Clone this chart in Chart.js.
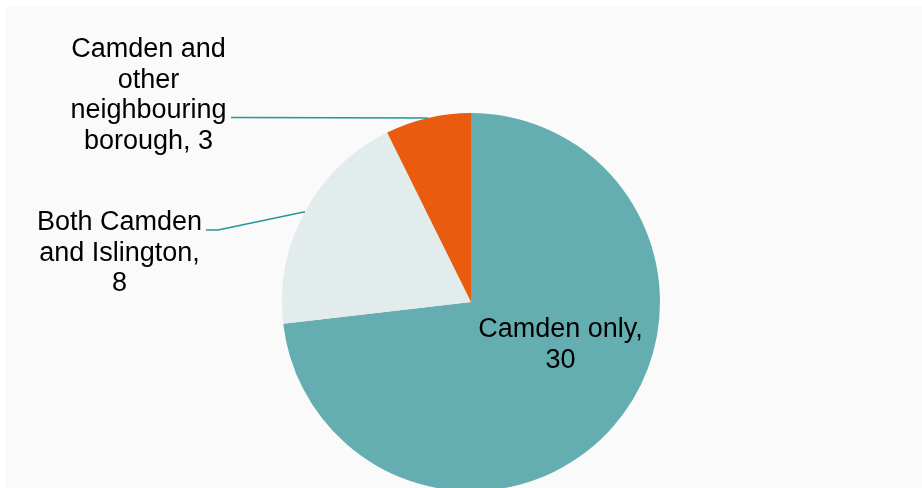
<!DOCTYPE html>
<html>
<head>
<meta charset="utf-8">
<script src="https://cdn.jsdelivr.net/npm/chart.js@4.4.1/dist/chart.umd.min.js"></script>
<style>
  html, body { margin: 0; padding: 0; width: 922px; height: 488px; overflow: hidden; background: #fff; }
  #wrap { position: relative; width: 922px; height: 500px; }
</style>
</head>
<body>
<div id="wrap"><canvas id="pie" width="922" height="500"></canvas></div>
<script>
// slices, clockwise from 12 o'clock
const categories = ["Camden only", "Both Camden and Islington", "Camden and other neighbouring borough"];
const counts = [30, 8, 3];
const sliceColors = ["#64aeb1", "#e2ecec", "#e95c0f"];

// how each category name wraps in its label, and whether the count sits on its own line
const labelWrap = [
  ["Camden only,"],
  ["Both Camden", "and Islington,"],
  ["Camden and", "other", "neighbouring", "borough,"]
];
const countOnOwnLine = [true, true, false];

// label placement: centre x and first baseline; leader start for outside labels
const labelPos = [
  { x: 560.5, y: 337 },
  { x: 119.5, y: 230 },
  { x: 148.5, y: 57 }
];
const leaderStart = [
  null,
  { x: 206, y: 230, elbowX: 218 },
  { x: 231, y: 117.5, elbowX: 240 }
];

const LINE_H = 30.7;
const LEADER_COLOR = "#22989a";

function labelLines(i) {
  const wrap = labelWrap[i];
  if (countOnOwnLine[i]) return [...wrap, String(counts[i])];
  return [...wrap.slice(0, -1), wrap[wrap.length - 1] + " " + counts[i]];
}

const panelBackground = {
  id: "panelBackground",
  beforeDraw(chart) {
    const ctx = chart.ctx;
    ctx.save();
    ctx.fillStyle = "#ffffff";
    ctx.fillRect(0, 0, chart.width, chart.height);
    ctx.fillStyle = "#fafafa";
    ctx.fillRect(5, 7, chart.width - 5, chart.height - 7);
    ctx.restore();
  }
};

const sliceLabels = {
  id: "sliceLabels",
  afterDatasetsDraw(chart) {
    const ctx = chart.ctx;
    const arcs = chart.getDatasetMeta(0).data;
    ctx.save();
    arcs.forEach((arc, i) => {
      const p = arc.getProps(["x", "y", "startAngle", "endAngle", "outerRadius"], true);
      const start = leaderStart[i];
      if (start) {
        const mid = (p.startAngle + p.endAngle) / 2;
        const ex = p.x + Math.cos(mid) * p.outerRadius;
        const ey = p.y + Math.sin(mid) * p.outerRadius;
        ctx.beginPath();
        ctx.moveTo(start.x, start.y);
        ctx.lineTo(start.elbowX, start.y);
        ctx.lineTo(ex, ey);
        ctx.strokeStyle = LEADER_COLOR;
        ctx.lineWidth = 1.5;
        ctx.stroke();
      }
      ctx.fillStyle = "#000";
      ctx.font = "27px 'Liberation Sans', Arial, sans-serif";
      ctx.textAlign = "center";
      ctx.textBaseline = "alphabetic";
      labelLines(i).forEach((line, k) => {
        ctx.fillText(line, labelPos[i].x, labelPos[i].y + k * LINE_H);
      });
    });
    ctx.restore();
  }
};

new Chart(document.getElementById("pie"), {
  type: "pie",
  data: {
    labels: categories,
    datasets: [{
      data: counts,
      backgroundColor: sliceColors,
      borderWidth: 0,
      hoverOffset: 0,
      offset: 0
    }]
  },
  options: {
    responsive: false,
    animation: false,
    events: [],
    layout: { padding: { top: 113, bottom: 9, left: 282, right: 262 } },
    plugins: {
      legend: { display: false },
      tooltip: { enabled: false }
    }
  },
  plugins: [panelBackground, sliceLabels]
});
</script>
</body>
</html>
